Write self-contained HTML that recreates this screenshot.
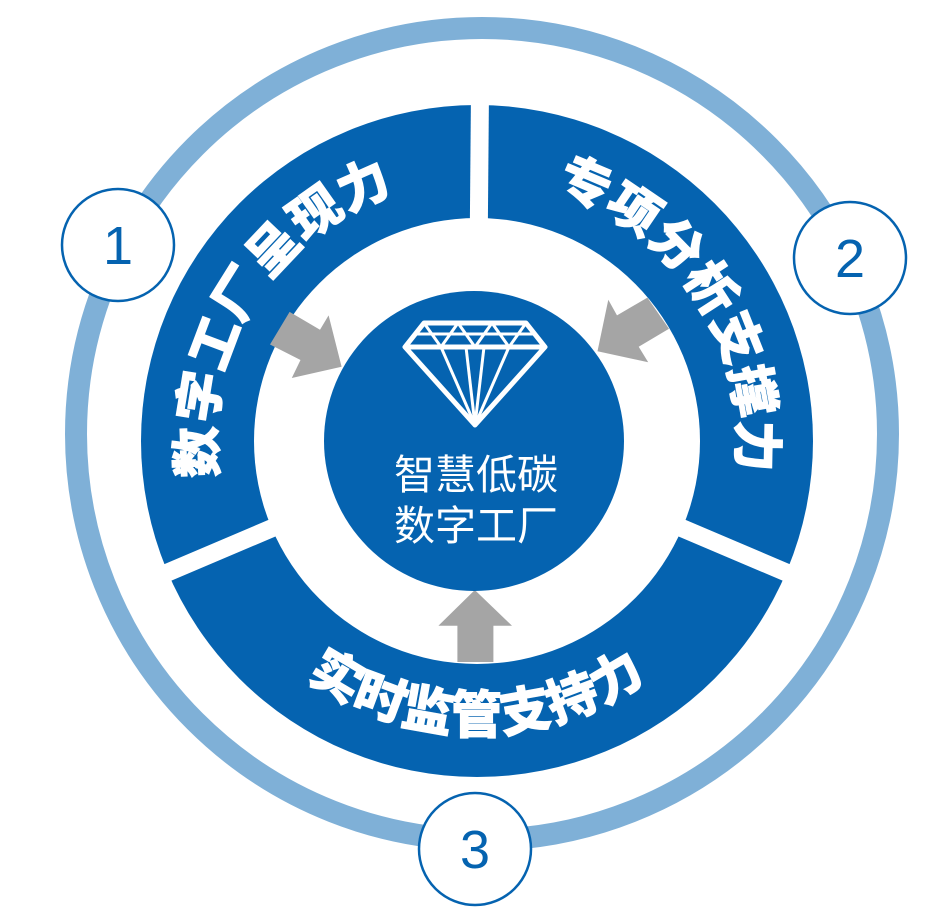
<!DOCTYPE html>
<html><head><meta charset="utf-8"><style>
html,body{margin:0;padding:0;background:#fff;}
svg{display:block;}
</style></head><body>
<svg width="947" height="924" viewBox="0 0 947 924" xmlns="http://www.w3.org/2000/svg">
<defs>
<path id="pl" d="M245.7,564 A262,262 0 0 1 486.1,179.2"/>
<path id="pr" d="M463.3,179.4 A262,262 0 0 1 710.4,559.9"/>
<path id="pb" d="M225.4,589.2 A292,292 0 0 0 728.6,589.2"/>
</defs>
<circle cx="482" cy="434" r="406" fill="none" stroke="#7fb0d7" stroke-width="22"/>
<circle cx="477" cy="441" r="336" fill="#0563b0"/>
<g stroke="#fff" stroke-width="18">
<line x1="477" y1="441" x2="480" y2="90"/>
<line x1="477" y1="441" x2="150" y2="580"/>
<line x1="477" y1="441" x2="804" y2="580"/>
</g>
<circle cx="477" cy="441" r="223" fill="#fff"/>
<g fill="#a5a5a5">
<polygon points="289.6,311.9 320,329.7 328.6,315.4 341.6,366.8 291.8,378 300.5,360 270,344.5"/>
<polygon points="647.4,297.6 669,328.8 638.7,346.7 648.2,362.3 597.5,351.2 608.3,299.8 617,315.4"/>
<polygon points="474.8,590 512,625.7 493.4,625.7 493.4,662 457.4,662 457.4,625.7 438.4,625.7"/>
</g>
<circle cx="474" cy="441" r="150" fill="#0563b0"/>
<g fill="none" stroke="#fff" stroke-width="5" stroke-linejoin="round">
<polygon points="424,323 526,323 545,347 475,425 405,347"/>
<line x1="405" y1="347" x2="545" y2="347"/>
<line x1="414" y1="334" x2="536" y2="334" stroke-width="3"/>
<polyline points="424,323 441,347 458,323 475,347 492,323 509,347 526,323" stroke-width="3"/>
<line x1="441" y1="347" x2="475" y2="425" stroke-width="3"/>
<line x1="466" y1="347" x2="475" y2="425" stroke-width="3"/>
<line x1="484" y1="347" x2="475" y2="425" stroke-width="3"/>
<line x1="509" y1="347" x2="475" y2="425" stroke-width="3"/>
</g>
<g font-family="'Liberation Sans','Noto Sans CJK SC',sans-serif" fill="#fff" font-size="41" text-anchor="middle">
<text x="476" y="489">智慧低碳</text>
<text x="476" y="540">数字工厂</text>
</g>
<g font-family="'Liberation Sans','Noto Sans CJK SC',sans-serif" fill="#fff" font-size="51" font-weight="900" letter-spacing="1" stroke="#fff" stroke-width="1">
<text><textPath href="#pl" startOffset="50%" text-anchor="middle">数字工厂呈现力</textPath></text>
<text><textPath href="#pr" startOffset="50%" text-anchor="middle">专项分析支撑力</textPath></text>
<text><textPath href="#pb" startOffset="50%" text-anchor="middle">实时监管支持力</textPath></text>
</g>
<g fill="#fff" stroke="#0563b0" stroke-width="2.5">
<circle cx="118" cy="245" r="56"/>
<circle cx="850" cy="258" r="56"/>
<circle cx="475" cy="849" r="56"/>
</g>
<g font-family="'Liberation Sans',sans-serif" fill="#0563b0" font-size="54" text-anchor="middle">
<text x="118" y="264">1</text>
<text x="850" y="277">2</text>
<text x="475" y="868">3</text>
</g>
</svg>
</body></html>
